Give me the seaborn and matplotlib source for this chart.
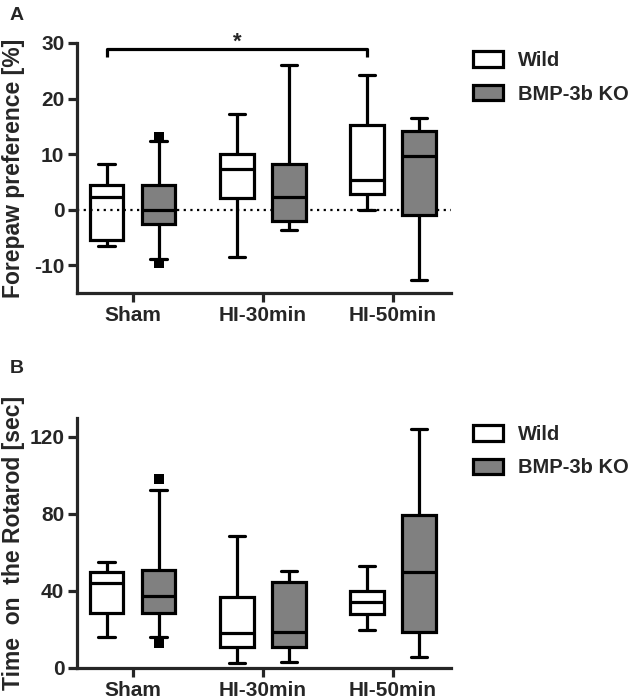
import numpy as np
import pandas as pd
import matplotlib
matplotlib.use("Agg")
import matplotlib.pyplot as plt
import seaborn as sns
from matplotlib.patches import Patch

groups = ["Sham", "HI-30min", "HI-50min"]
genotypes = ["Wild", "BMP-3b KO"]

# Panel A: five-number summaries (whisker low, Q1, median, Q3, whisker high)
a_wild_low = [-6.5, -8.6, 0.0]
a_wild_q1 = [-5.5, 2.1, 2.8]
a_wild_med = [2.3, 7.4, 5.4]
a_wild_q3 = [4.4, 10.1, 15.2]
a_wild_high = [8.2, 17.2, 24.3]
a_ko_low = [-8.9, -3.7, -12.7]
a_ko_q1 = [-2.6, -2.0, -1.0]
a_ko_med = [0.0, 2.3, 9.6]
a_ko_q3 = [4.4, 8.2, 14.1]
a_ko_high = [12.3, 26.0, 16.5]
a_out_group = ["Sham", "Sham"]
a_out_geno = ["BMP-3b KO", "BMP-3b KO"]
a_out_value = [13.0, -9.6]

# Panel B
b_wild_low = [15.8, 2.6, 19.6]
b_wild_q1 = [28.6, 10.9, 27.7]
b_wild_med = [43.8, 17.9, 34.0]
b_wild_q3 = [49.9, 36.9, 40.0]
b_wild_high = [55.1, 68.6, 53.0]
b_ko_low = [16.1, 3.1, 5.7]
b_ko_q1 = [28.6, 10.9, 18.7]
b_ko_med = [37.2, 18.5, 49.9]
b_ko_q3 = [50.8, 44.7, 79.3]
b_ko_high = [92.3, 50.2, 124.0]
b_out_group = ["Sham", "Sham"]
b_out_geno = ["BMP-3b KO", "BMP-3b KO"]
b_out_value = [97.9, 13.0]

ylabel_a = "Forepaw preference [%]"
ylabel_b = "Time  on  the Rotarod [sec]"
yticks_a = [-10, 0, 10, 20, 30]
yticks_b = [0, 40, 80, 120]


def build(wl, wq1, wm, wq3, wh, kl, kq1, km, kq3, kh):
    rows = []
    for i, g in enumerate(groups):
        for v in (wl[i], wq1[i], wm[i], wq3[i], wh[i]):
            rows.append((g, "Wild", v))
        for v in (kl[i], kq1[i], km[i], kq3[i], kh[i]):
            rows.append((g, "BMP-3b KO", v))
    return pd.DataFrame(rows, columns=["group", "genotype", "value"])


df_a = build(a_wild_low, a_wild_q1, a_wild_med, a_wild_q3, a_wild_high,
             a_ko_low, a_ko_q1, a_ko_med, a_ko_q3, a_ko_high)
df_b = build(b_wild_low, b_wild_q1, b_wild_med, b_wild_q3, b_wild_high,
             b_ko_low, b_ko_q1, b_ko_med, b_ko_q3, b_ko_high)
out_a = pd.DataFrame({"group": a_out_group, "genotype": a_out_geno, "value": a_out_value})
out_b = pd.DataFrame({"group": b_out_group, "genotype": b_out_geno, "value": b_out_value})

sns.set_style("ticks")
plt.rcParams["font.family"] = ["Liberation Sans", "DejaVu Sans"]
plt.rcParams["font.weight"] = "bold"
plt.rcParams["axes.labelweight"] = "bold"
plt.rcParams["axes.unicode_minus"] = False

GRAY = "#808080"
LW = 2.3

fig = plt.figure(figsize=(6.3, 7.0), dpi=100)
ax_a = fig.add_axes([0.123, 0.5814, 0.593, 0.3572])
ax_b = fig.add_axes([0.123, 0.0461, 0.593, 0.3563])


def draw(ax, df, out, ylim, yticks, ylabel):
    sns.boxplot(data=df, x="group", y="value", hue="genotype", order=groups,
                hue_order=genotypes, palette={"Wild": "white", "BMP-3b KO": GRAY},
                whis=np.inf, width=0.8, gap=0.36, linecolor="black", linewidth=LW,
                showfliers=False, legend=False, ax=ax)
    for p in ax.patches:
        fc = p.get_facecolor()
        if fc[0] > 0.99 and fc[1] > 0.99 and fc[2] > 0.99:
            p.set_facecolor("none")
    sns.stripplot(data=out, x="group", y="value", hue="genotype", order=groups,
                  hue_order=genotypes, dodge=True, jitter=False, marker="s", size=7.5,
                  palette={"Wild": "black", "BMP-3b KO": "black"}, linewidth=0,
                  legend=False, ax=ax, zorder=5)
    ax.set_xlim(-0.425, 2.446)
    ax.set_ylim(*ylim)
    ax.set_yticks(yticks)
    ax.set_xlabel("")
    ax.set_ylabel(ylabel, fontsize=16.5, fontweight="bold")
    ax.yaxis.set_label_coords(-0.141, 0.5)
    sns.despine(ax=ax)
    for s in ("left", "bottom"):
        ax.spines[s].set_linewidth(LW)
    ax.tick_params(axis="both", width=LW, length=6.5, pad=3, labelsize=15)
    for lab in ax.get_xticklabels() + ax.get_yticklabels():
        lab.set_fontweight("bold")
    handles = [Patch(facecolor="white", edgecolor="black", linewidth=LW, label="Wild"),
               Patch(facecolor=GRAY, edgecolor="black", linewidth=LW, label="BMP-3b KO")]
    return handles


handles = draw(ax_a, df_a, out_a, (-15, 30), yticks_a, ylabel_a)
ax_a.axhline(0, color="black", linestyle=(0, (1, 2)), linewidth=1.6, zorder=0.5)

# significance bracket between Wild Sham and Wild HI-50min
x0 = groups.index("Sham") - 0.2
x1 = groups.index("HI-50min") - 0.2
ax_a.plot([x0, x0, x1, x1], [27.5, 28.9, 28.9, 27.5], color="black", lw=LW,
          clip_on=False, solid_capstyle="butt")
ax_a.text((x0 + x1) / 2, 28.3, "*", ha="center", va="bottom", fontsize=16,
          fontweight="bold", clip_on=False)

draw(ax_b, df_b, out_b, (0, 129.5), yticks_b, ylabel_b)

for top in (1 - 51 / 700, 1 - 425 / 700):
    fig.legend(handles=handles, loc="upper left", bbox_to_anchor=(473 / 630, top),
               frameon=False, handlelength=1.5, handleheight=0.82,
               handletextpad=0.75, labelspacing=0.72, borderpad=0, borderaxespad=0,
               prop={"weight": "bold", "size": 14.5})

fig.text(10 / 630, 1 - 7 / 700, "A", fontsize=14, fontweight="bold", va="top", ha="left")
fig.text(10 / 630, 1 - 360 / 700, "B", fontsize=14, fontweight="bold", va="top", ha="left")

fig.savefig("out.png", dpi=100)
